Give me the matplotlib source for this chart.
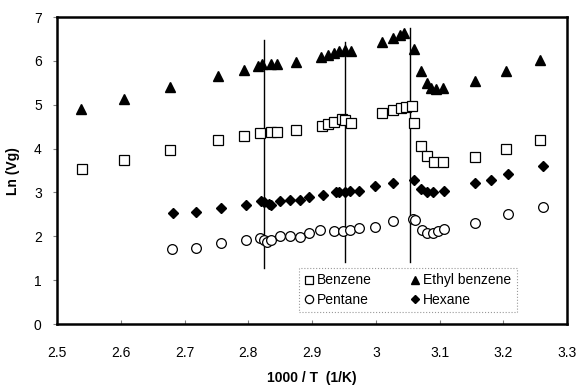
import matplotlib.pyplot as plt

plt.rcParams['font.family'] = ['Liberation Sans', 'DejaVu Sans']

# Ethyl benzene
eb_x = [2.538, 2.605, 2.677, 2.752, 2.793, 2.815, 2.822, 2.835, 2.845, 2.875,
        2.914, 2.925, 2.935, 2.943, 2.951, 2.961,
        3.010, 3.027, 3.038, 3.045, 3.060, 3.071, 3.080, 3.087, 3.095, 3.106,
        3.155, 3.204, 3.258]
eb_y = [4.90, 5.13, 5.40, 5.65, 5.79, 5.88, 5.93, 5.92, 5.92, 5.97,
        6.09, 6.13, 6.19, 6.23, 6.25, 6.23,
        6.44, 6.53, 6.59, 6.63, 6.28, 5.77, 5.50, 5.39, 5.37, 5.39,
        5.55, 5.78, 6.03]

# Benzene
bz_x = [2.539, 2.605, 2.677, 2.752, 2.793, 2.819, 2.835, 2.845, 2.875,
        2.915, 2.925, 2.935, 2.947, 2.951, 2.961,
        3.010, 3.027, 3.039, 3.048, 3.056, 3.060, 3.071, 3.080, 3.091, 3.106,
        3.155, 3.204, 3.258]
bz_y = [3.53, 3.74, 3.97, 4.20, 4.29, 4.36, 4.39, 4.39, 4.42,
        4.52, 4.56, 4.60, 4.67, 4.65, 4.59,
        4.82, 4.88, 4.92, 4.95, 4.98, 4.59, 4.07, 3.84, 3.69, 3.69,
        3.80, 3.99, 4.20]

# Hexane
hx_x = [2.682, 2.718, 2.757, 2.797, 2.820, 2.825, 2.833, 2.835,
        2.849, 2.865, 2.881, 2.896, 2.917, 2.937, 2.943, 2.951, 2.959, 2.973,
        2.999, 3.027, 3.060, 3.071, 3.080, 3.090, 3.107,
        3.156, 3.181, 3.208, 3.262]
hx_y = [2.54, 2.55, 2.65, 2.72, 2.80, 2.79, 2.74, 2.71,
        2.80, 2.83, 2.83, 2.89, 2.94, 3.00, 3.00, 3.02, 3.04, 3.04,
        3.15, 3.22, 3.28, 3.07, 3.02, 3.00, 3.04,
        3.21, 3.28, 3.43, 3.61]

# Pentane
pn_x = [2.681, 2.718, 2.757, 2.797, 2.818, 2.824, 2.830, 2.836,
        2.849, 2.865, 2.881, 2.896, 2.913, 2.935, 2.948, 2.959, 2.973,
        2.999, 3.027, 3.059, 3.061, 3.072, 3.080, 3.090, 3.098, 3.107,
        3.156, 3.207, 3.262]
pn_y = [1.71, 1.74, 1.85, 1.92, 1.97, 1.92, 1.88, 1.92,
        2.01, 2.01, 1.98, 2.07, 2.14, 2.13, 2.13, 2.14, 2.20,
        2.22, 2.34, 2.39, 2.37, 2.14, 2.08, 2.08, 2.13, 2.17,
        2.31, 2.50, 2.66]

# transition lines: x, bottom, top
trans_x = [2.824, 2.952, 3.053]
trans_lo = [1.28, 1.41, 1.41]
trans_hi = [6.47, 6.43, 6.75]

fig = plt.figure(figsize=(5.85, 3.89), dpi=100)
ax = fig.add_axes([0.0974, 0.167, 0.872, 0.789])

for x, lo, hi in zip(trans_x, trans_lo, trans_hi):
    ax.plot([x, x], [lo, hi], color='black', linewidth=1.0, zorder=1)

ax.plot(bz_x, bz_y, 's', markerfacecolor='white', markeredgecolor='black',
        markersize=7, markeredgewidth=0.9, label='Benzene', zorder=2)
ax.plot(pn_x, pn_y, 'o', markerfacecolor='white', markeredgecolor='black',
        markersize=7, markeredgewidth=0.9, label='Pentane', zorder=2)
ax.plot(eb_x, eb_y, '^', color='black', markersize=7, label='Ethyl benzene', zorder=3)
ax.plot(hx_x, hx_y, 'D', color='black', markersize=5, label='Hexane', zorder=3)

ax.set_xlim(2.5, 3.3)
ax.set_ylim(0, 7)
ax.set_xticks([2.5, 2.6, 2.7, 2.8, 2.9, 3.0, 3.1, 3.2, 3.3])
ax.set_xticklabels(['2.5', '2.6', '2.7', '2.8', '2.9', '3', '3.1', '3.2', '3.3'])
ax.set_yticks(range(8))

for s in ax.spines.values():
    s.set_linewidth(1.8)

ax.tick_params(axis='x', direction='in', length=3, color='grey', pad=16, labelsize=10)
ax.tick_params(axis='y', direction='out', length=3, color='grey', pad=8, labelsize=10)

ax.set_xlabel('1000 / T  (1/K)', fontsize=10, fontweight='bold', labelpad=8)
ax.set_ylabel('Ln (Vg)', fontsize=10, fontweight='bold', labelpad=10)

leg = ax.legend(loc='lower right', bbox_to_anchor=(0.915, 0.015), ncol=2,
                fontsize=10, frameon=True, fancybox=False, handlelength=0.7,
                handletextpad=0.2, columnspacing=2.8, borderpad=0.4,
                labelspacing=0.4, markerscale=0.85)
leg.get_frame().set_edgecolor('grey')
leg.get_frame().set_linestyle(':')
leg.get_frame().set_linewidth(0.8)

plt.savefig('out.png', dpi=100)
